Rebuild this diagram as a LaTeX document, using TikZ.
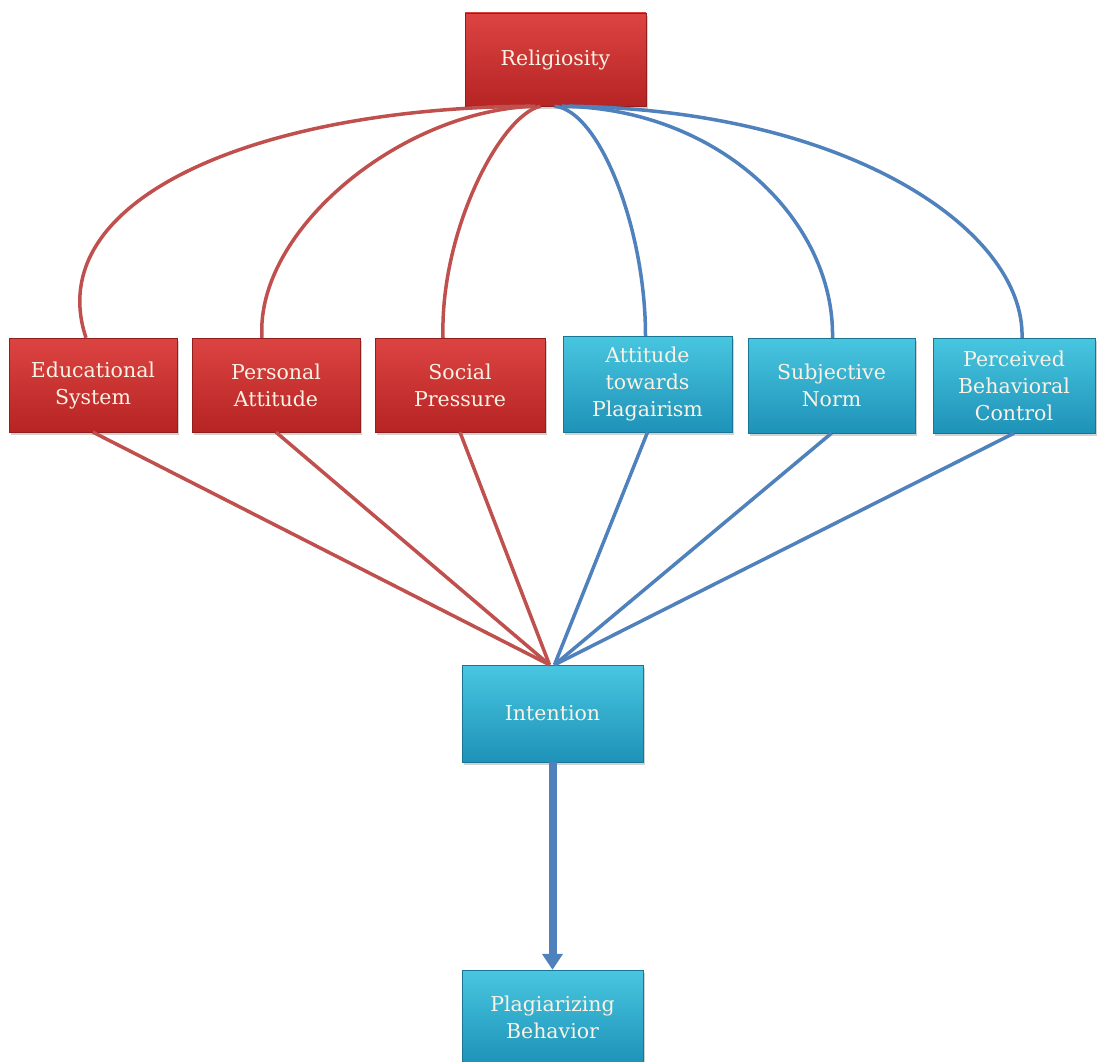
\documentclass[tikz,border=0pt]{standalone}
\usepackage{fontspec}
\setmainfont{DejaVu Serif}
\usetikzlibrary{arrows.meta,shadows}
\definecolor{redtop}{RGB}{220,68,66}
\definecolor{redbot}{RGB}{182,36,36}
\definecolor{bluetop}{RGB}{72,198,224}
\definecolor{bluebot}{RGB}{30,146,184}
\definecolor{redline}{RGB}{192,80,77}
\definecolor{blueline}{RGB}{79,129,189}
\definecolor{cream}{RGB}{250,242,228}
\begin{document}
\begin{tikzpicture}[x=1pt,y=-1pt,
  box/.style={rectangle, inner sep=0pt, align=center, text=cream,
    font=\fontsize{20.5}{27}\selectfont,
    drop shadow={opacity=0.35,shadow xshift=2pt,shadow yshift=-3pt}},
  redbox/.style={box, top color=redtop, bottom color=redbot, draw=redbot!80!black, line width=0.4pt},
  bluebox/.style={box, top color=bluetop, bottom color=bluebot, draw=bluebot!80!black, line width=0.4pt},
  redcurve/.style={draw=redline, line width=3.5pt},
  bluecurve/.style={draw=blueline, line width=3.5pt}]
\useasboundingbox (0,0) rectangle (1097,1062);
\clip (0,0) rectangle (1097,1062);
\fill[white] (0,0) rectangle (1097,1062);

% nodes
\node[redbox, minimum width=181pt, minimum height=93pt] (rel) at (555.5,59.5) {Religiosity};
\node[redbox, minimum width=168pt, minimum height=94pt] (edu) at (93,385) {Educational\\System};
\node[redbox, minimum width=168pt, minimum height=94pt] (per) at (276,385) {Personal\\Attitude};
\node[redbox, minimum width=170pt, minimum height=94pt] (soc) at (460,385) {Social\\Pressure};
\node[bluebox, minimum width=169pt, minimum height=96pt] (att) at (647.5,384) {Attitude\\towards\\Plagairism};
\node[bluebox, minimum width=167pt, minimum height=95pt] (sub) at (831.5,385.5) {Subjective\\Norm};
\node[bluebox, minimum width=162pt, minimum height=95pt] (pbc) at (1014,385.5) {Perceived\\Behavioral\\Control};
\node[bluebox, minimum width=181pt, minimum height=97pt] (int) at (552.5,713.5) {Intention};
\node[bluebox, minimum width=181pt, minimum height=94pt] (plb) at (552.5,1017) {Plagiarizing\\Behavior};

% curves from Religiosity
\draw[redcurve] ([xshift=-25pt]rel.south) .. controls +(-275,2) and +(-46,-138) .. ([xshift=-7pt]edu.north);
\draw[redcurve] ([xshift=-20pt]rel.south) .. controls +(-135,4) and +(-7,-107) .. ([xshift=-14pt]per.north);
\draw[redcurve] ([xshift=-15pt]rel.south) .. controls +(-40,9) and +(-3,-107) .. ([xshift=-17pt]soc.north);
\draw[bluecurve] ([xshift=-1pt]rel.south) .. controls +(45,4) and +(0,-107) .. ([xshift=-2pt]att.north);
\draw[bluecurve] ([xshift=6pt]rel.south) .. controls +(158,2) and +(2,-117) .. ([xshift=1pt]sub.north);
\draw[bluecurve] ([xshift=14pt]rel.south) .. controls +(280,4) and +(3,-107) .. ([xshift=8pt]pbc.north);

% straight lines to Intention
\draw[redcurve] (edu.south) -- ([xshift=-3pt]int.north);
\draw[redcurve] (per.south) -- ([xshift=-3pt]int.north);
\draw[redcurve] (soc.south) -- ([xshift=-3pt]int.north);
\draw[bluecurve] (att.south) -- ([xshift=2pt]int.north);
\draw[bluecurve] (sub.south) -- ([xshift=2pt]int.north);
\draw[bluecurve] (pbc.south) -- ([xshift=2pt]int.north);

% arrow
\draw[blueline, line width=8pt, -{Triangle[width=20pt,length=16pt]}] (int.south) -- (plb.north);
\end{tikzpicture}
\end{document}
